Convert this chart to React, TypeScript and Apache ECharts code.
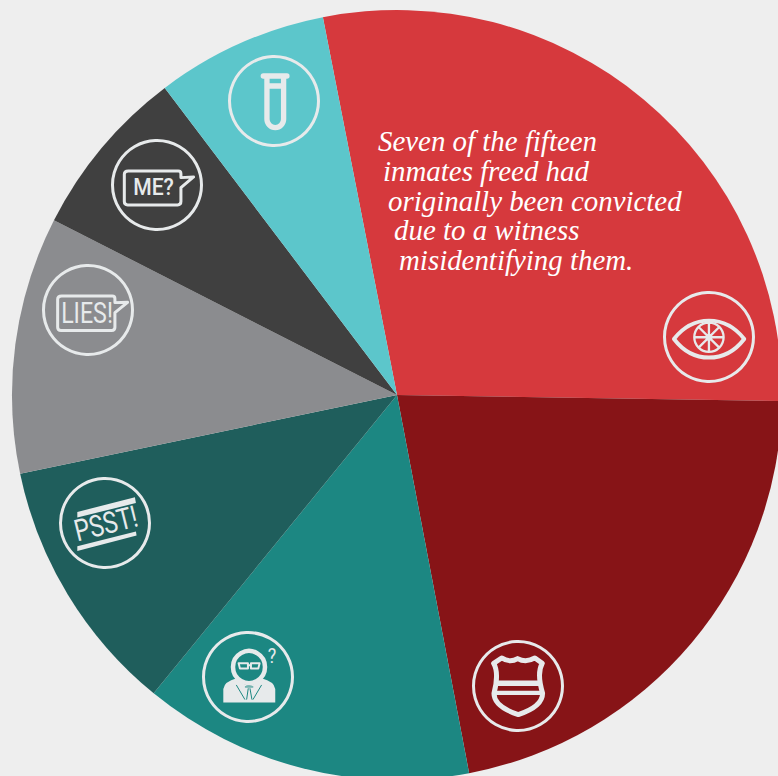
import React, { useEffect, useRef } from "react";
import * as echarts from "echarts";

const categories = ["Eyewitness misidentification", "Police misconduct", "Mistaken suspect", "Informant", "False testimony", "False confession", "Bad forensics"];
const sliceValues = [102, 78.3, 50, 39, 38.8, 25.9, 26];
const sliceColors = ["#d6393d", "#871417", "#1c8782", "#1f5e5c", "#8b8c8f", "#404040", "#5cc6cb"];
const noteLines = ["Seven of the fifteen", "inmates freed had", "originally been convicted", "due to a witness", "misidentifying them."];
const noteX = [378, 383, 388, 394, 399];
const noteY = [141, 170.5, 200.5, 230, 260];

const ICON = "#e7eaeb";
const reg = (name: string, d: string) =>
  echarts.graphic.registerShape(name, echarts.graphic.extendPath(d, {}) as any);

reg("eyeLens", "M72 177 Q115 122 177 122 Q240 122 283 177 Q240 233 177 233 Q115 233 72 177 Z");
reg("eyeIris", "M133 172 A44 44 0 1 1 221 172 A44 44 0 1 1 133 172 Z M177 128 L177 216 M133 172 L221 172 M146 141 L208 203 M208 141 L146 203");
reg("shieldOut", "M101 100 L125 84 Q150 100 173 86 Q198 100 225 84 L247 100 Q230 130 248 190 Q248 230 175 254 Q102 230 102 190 Q118 130 101 100 Z");
reg("shieldBand", "M108 160 L242 160");
reg("shieldBand2", "M102 189 L248 189");
reg("detBody", "M85 233 L85 192 Q88 170 125 160 L145 176 Q162 190 180 176 L200 160 Q238 170 241 192 L241 233 Z");
reg("detCollar", "M124 180 L150 224 M200 180 L174 224 M150 186 L175 186 M160 190 L155 224 M165 190 L171 224");
reg("detGlass", "M131 115 L159 115 L159 131 L135 131 Z M168 115 L194 115 L190 131 L168 131 Z M159 121 L168 121");
reg("psstTop", "M82 126 L255 82 L258 99 L82 143 Z");
reg("psstBottom", "M82 229 L258 185 L260 197 L82 243 Z");
reg("liesBubble", "M80 108 L232 108 Q240 108 240 116 L240 128 L278 127 L240 158 L240 202 Q240 212 230 212 L78 212 Q68 212 68 202 L68 118 Q68 108 80 108 Z");
reg("meBubble", "M70 108 L220 108 Q228 108 228 116 L228 128 L266 126 L228 158 L228 200 Q228 210 218 210 L68 210 Q58 210 58 200 L58 118 Q58 108 70 108 Z");
reg("tubeLid", "M130 78 L201 78");
reg("tubeBody", "M141 80 L141 208 A25 25 0 0 0 191 208 L191 80 M141 108 L191 108");

const zoomPath = (type: string, ox: number, oy: number, style: any) => ({
  type, x: ox, y: oy, scaleX: 1 / 3, scaleY: 1 / 3, silent: true,
  style: { fill: "none", stroke: ICON, lineJoin: "round", ...style },
});
const ring = (cx: number, cy: number) => ({
  type: "circle", shape: { cx, cy, r: 44.5 }, silent: true,
  style: { fill: "none", stroke: ICON, lineWidth: 3 },
});
const label = (text: string, x: number, y: number, size: number, weight: number, scaleX: number, rotation = 0) => ({
  type: "text", x, y, rotation, scaleX, silent: true,
  style: { text, x: 0, y: 0, fill: ICON, font: `${weight} ${size}px Roboto`, align: "center", verticalAlign: "middle" },
});

export default function App() {
  const ref = useRef<HTMLDivElement>(null);
  useEffect(() => {
    document.body.style.margin = "0";
    document.body.style.background = "#eeeeee";
    const chart = echarts.init(ref.current!, undefined, { renderer: "svg" });
    const elements: any[] = [
      ...noteLines.map((text, i) => ({
        type: "text", x: noteX[i], y: noteY[i], silent: true,
        style: { text, x: 0, y: 0, fill: "#ffffff", font: "italic 400 28.9px 'Liberation Serif'", align: "left", verticalAlign: "middle" },
      })),
      ring(709, 337),
      zoomPath("eyeLens", 650, 280, { lineWidth: 12 }),
      zoomPath("eyeIris", 650, 280, { lineWidth: 7 }),
      { type: "circle", shape: { cx: 709, cy: 337.3, r: 3.5 }, silent: true, style: { fill: ICON } },
      ring(518, 686),
      zoomPath("shieldOut", 460, 630, { lineWidth: 15 }),
      zoomPath("shieldBand", 460, 630, { lineWidth: 17 }),
      zoomPath("shieldBand2", 460, 630, { lineWidth: 13 }),
      ring(248, 677),
      { type: "circle", shape: { cx: 249, cy: 667, r: 16 }, silent: true, style: { fill: "none", stroke: ICON, lineWidth: 4.5 } },
      zoomPath("detBody", 195, 625, { fill: ICON, stroke: "none" }),
      zoomPath("detCollar", 195, 625, { stroke: "#1c8782", lineWidth: 3 }),
      zoomPath("detGlass", 195, 625, { lineWidth: 6 }),
      label("?", 272, 656, 20, 400, 0.9),
      ring(105, 523),
      zoomPath("psstTop", 50, 470, { fill: ICON, stroke: "none" }),
      zoomPath("psstBottom", 50, 470, { fill: ICON, stroke: "none" }),
      label("PSST!", 106, 524, 30, 400, 0.8, 0.245),
      ring(88, 310),
      zoomPath("liesBubble", 35, 260, { lineWidth: 9 }),
      label("LIES!", 87, 313, 29, 400, 0.8),
      ring(157, 185),
      zoomPath("meBubble", 105, 135, { lineWidth: 9 }),
      label("ME?", 153.5, 187, 24, 500, 0.88),
      ring(274, 101),
      zoomPath("tubeLid", 220, 50, { lineWidth: 16, lineCap: "round" }),
      zoomPath("tubeBody", 220, 50, { lineWidth: 16 }),
    ];
    chart.setOption({
      animation: false,
      backgroundColor: "#eeeeee",
      series: [{
        type: "pie",
        center: [397, 395],
        radius: [0, 385],
        startAngle: 101.1,
        clockwise: true,
        silent: true,
        label: { show: false },
        labelLine: { show: false },
        itemStyle: { borderWidth: 0 },
        data: categories.map((name, i) => ({ name, value: sliceValues[i], itemStyle: { color: sliceColors[i] } })),
      }],
      graphic: { elements: elements.map((e) => ({ ...e, z: 100 })) },
    });
    return () => chart.dispose();
  }, []);
  return <div ref={ref} style={{ position: "absolute", left: 0, top: 0, width: 778, height: 776, overflow: "hidden" }} />;
}
